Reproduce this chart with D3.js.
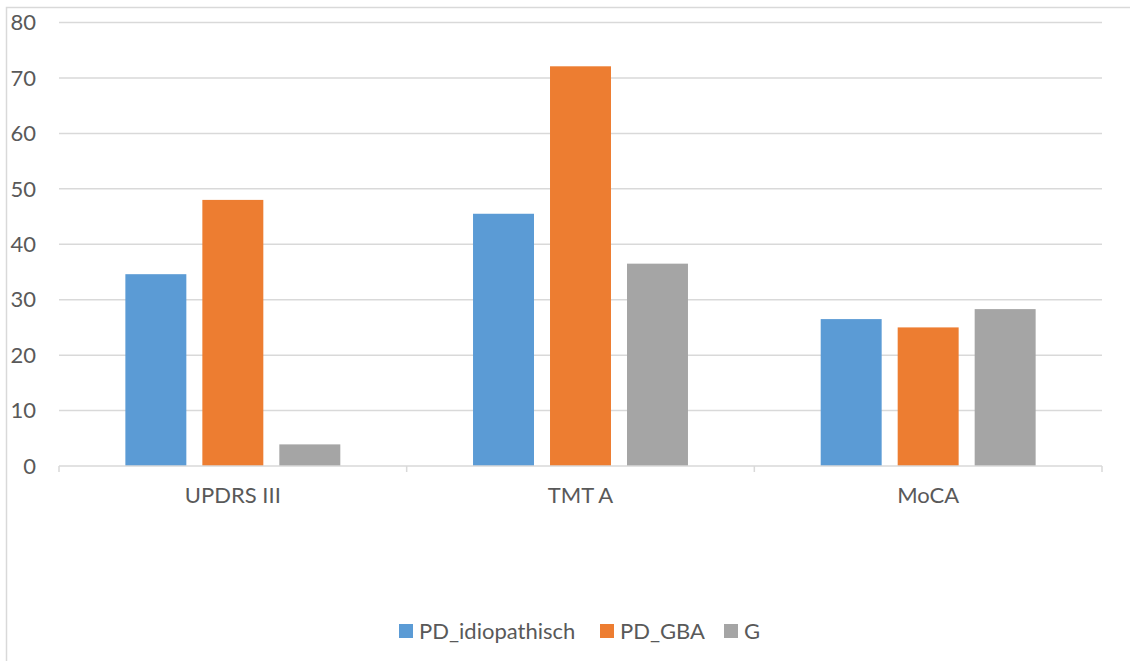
<!DOCTYPE html>
<html>
<head>
<meta charset="utf-8">
<script src="https://cdn.jsdelivr.net/npm/d3@7"></script>
<style>
  html, body { margin: 0; padding: 0; background: #fff; }
  svg { display: block; }
  text { font-family: Lato, "Open Sans", sans-serif; fill: #595959; }
</style>
</head>
<body>
<svg id="chart" width="1130" height="661"></svg>
<script>
// Scores per measure and group
const categories = ["UPDRS III", "TMT A", "MoCA"];
const seriesNames = ["PD_idiopathisch", "PD_GBA", "G"];
const pdIdiopathisch = [34.6, 45.5, 26.5];
const pdGBA = [48.0, 72.1, 25.0];
const gGroup = [3.9, 36.5, 28.3];
const yTicks = [0, 10, 20, 30, 40, 50, 60, 70, 80];
const colors = ["#5B9BD5", "#ED7D31", "#A5A5A5"];

const seriesValues = [pdIdiopathisch, pdGBA, gGroup];
const rows = categories.map((c, i) => ({
  category: c,
  values: seriesNames.map((s, j) => ({ series: s, value: seriesValues[j][i], color: colors[j] }))
}));

const svg = d3.select("#chart");
const W = 1130, H = 661;
const plot = { left: 59, right: 1102, top: 22.5, bottom: 466 };

// Outer frame (left and top edges visible)
svg.append("rect")
  .attr("x", 6.5).attr("y", 7.5)
  .attr("width", W + 10).attr("height", H + 10)
  .attr("fill", "none").attr("stroke", "#d9d9d9").attr("stroke-width", 1.5);

const y = d3.scaleLinear().domain([0, 80]).range([plot.bottom, plot.top]);
const x0 = d3.scaleBand().domain(categories).range([plot.left, plot.right]).paddingInner(0).paddingOuter(0);
const x1 = d3.scaleBand().domain(seriesNames).range([0, x0.bandwidth()]).paddingInner(0.208).paddingOuter(0.862);

// Horizontal gridlines
svg.append("g")
  .selectAll("line")
  .data(yTicks.filter(t => t > 0))
  .join("line")
  .attr("x1", plot.left).attr("x2", plot.right)
  .attr("y1", d => y(d)).attr("y2", d => y(d))
  .attr("stroke", "#d9d9d9").attr("stroke-width", 1.5);

// Y tick labels
svg.append("g")
  .selectAll("text")
  .data(yTicks)
  .join("text")
  .attr("x", 36).attr("y", d => y(d))
  .attr("dy", "0.35em")
  .attr("text-anchor", "end")
  .style("font-size", "22px")
  .text(d => d);

// Bars
const groups = svg.append("g")
  .selectAll("g")
  .data(rows)
  .join("g")
  .attr("transform", d => `translate(${x0(d.category)},0)`);

groups.selectAll("rect")
  .data(d => d.values)
  .join("rect")
  .attr("x", d => x1(d.series))
  .attr("width", x1.bandwidth())
  .attr("y", d => y(d.value))
  .attr("height", d => y(0) - y(d.value))
  .attr("fill", d => d.color);

// Category axis
const xAxis = svg.append("g");
xAxis.append("line")
  .attr("x1", plot.left).attr("x2", plot.right)
  .attr("y1", plot.bottom).attr("y2", plot.bottom)
  .attr("stroke", "#d9d9d9").attr("stroke-width", 1.5);
const boundaries = categories.map(c => x0(c)).concat([plot.right]);
xAxis.selectAll("line.tick")
  .data(boundaries)
  .join("line")
  .attr("class", "tick")
  .attr("x1", d => d).attr("x2", d => d)
  .attr("y1", plot.bottom).attr("y2", plot.bottom + 6)
  .attr("stroke", "#d9d9d9").attr("stroke-width", 1.5);
xAxis.selectAll("text")
  .data(categories)
  .join("text")
  .attr("x", d => x0(d) + x0.bandwidth() / 2)
  .attr("y", 503)
  .attr("text-anchor", "middle")
  .style("font-size", "22px")
  .text(d => d);

// Legend
const legendItems = [
  { name: seriesNames[0], color: colors[0], x: 399 },
  { name: seriesNames[1], color: colors[1], x: 600 },
  { name: seriesNames[2], color: colors[2], x: 724 }
];
const legend = svg.append("g")
  .selectAll("g")
  .data(legendItems)
  .join("g")
  .attr("transform", d => `translate(${d.x},624)`);
legend.append("rect")
  .attr("width", 14).attr("height", 14)
  .attr("fill", d => d.color);
legend.append("text")
  .attr("x", 20).attr("y", 7)
  .attr("dy", "0.36em")
  .style("font-size", "22px")
  .text(d => d.name);
</script>
</body>
</html>
